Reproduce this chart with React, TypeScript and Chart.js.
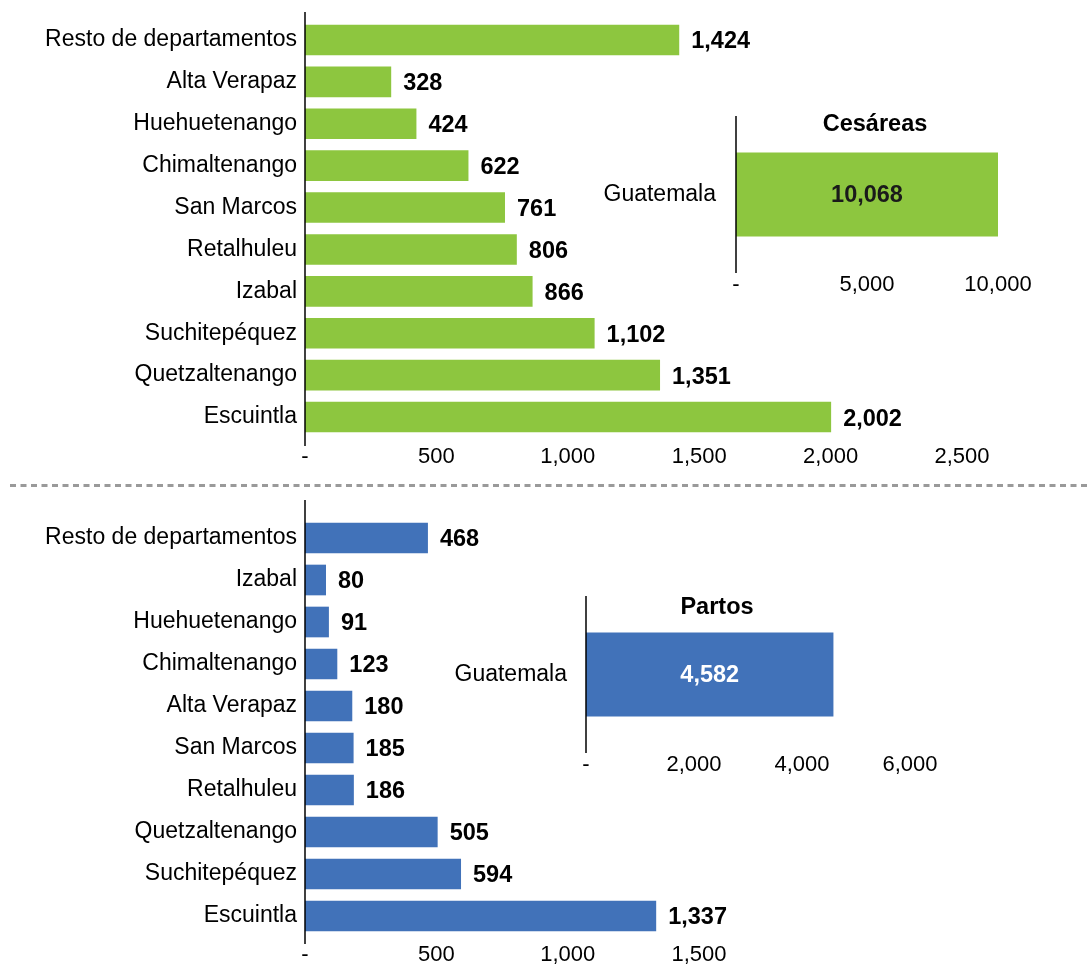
import React, { useEffect, useRef } from 'react';
import { Chart, registerables } from 'chart.js';

Chart.register(...registerables);

const FONT = "'Liberation Sans', Arial, Helvetica, sans-serif";
const GREEN = '#8DC63F';
const BLUE = '#4172B9';

// ---- Data ----
const cesareasDeptos = [
  'Resto de departamentos',
  'Alta Verapaz',
  'Huehuetenango',
  'Chimaltenango',
  'San Marcos',
  'Retalhuleu',
  'Izabal',
  'Suchitepéquez',
  'Quetzaltenango',
  'Escuintla',
];
const cesareasValues = [1424, 328, 424, 622, 761, 806, 866, 1102, 1351, 2002];
const cesareasTicks = [0, 500, 1000, 1500, 2000, 2500];

const cesareasTotalLabel = ['Guatemala'];
const cesareasTotal = [10068];
const cesareasTotalTicks = [0, 5000, 10000];
const cesareasTitle = 'Cesáreas';

const partosDeptos = [
  'Resto de departamentos',
  'Izabal',
  'Huehuetenango',
  'Chimaltenango',
  'Alta Verapaz',
  'San Marcos',
  'Retalhuleu',
  'Quetzaltenango',
  'Suchitepéquez',
  'Escuintla',
];
const partosValues = [468, 80, 91, 123, 180, 185, 186, 505, 594, 1337];
const partosTicks = [0, 500, 1000, 1500];

const partosTotalLabel = ['Guatemala'];
const partosTotal = [4582];
const partosTotalTicks = [0, 2000, 4000, 6000];
const partosTitle = 'Partos';

// ---- Helpers ----
const fmt = (v: number) => (v === 0 ? '-' : Number(v).toLocaleString('en-US'));
const BOLD = `bold 23.5px ${FONT}`;

const decorPlugin = {
  id: 'decor',
  afterDatasetsDraw(chart: any, _args: any, opts: any) {
    const ctx = chart.ctx as CanvasRenderingContext2D;
    const a = chart.chartArea;
    ctx.save();
    // vertical axis line
    ctx.strokeStyle = '#000';
    ctx.lineWidth = 1.5;
    ctx.beginPath();
    ctx.moveTo(a.left, a.top - (opts.lineUp || 0));
    ctx.lineTo(a.left, a.bottom + (opts.lineDown || 0));
    ctx.stroke();

    // dashed separator
    if (opts.dashedY !== undefined && opts.dashedY !== null) {
      ctx.strokeStyle = '#9a9a9a';
      ctx.lineWidth = 3;
      ctx.setLineDash([6, 4.5]);
      ctx.beginPath();
      ctx.moveTo(10, opts.dashedY);
      ctx.lineTo(chart.width, opts.dashedY);
      ctx.stroke();
      ctx.setLineDash([]);
    }

    // value labels
    const meta = chart.getDatasetMeta(0);
    const data = chart.data.datasets[0].data;
    ctx.font = BOLD;
    ctx.textBaseline = 'middle';
    meta.data.forEach((el: any, i: number) => {
      const txt = Number(data[i]).toLocaleString('en-US');
      if (opts.inside) {
        ctx.textAlign = 'center';
        ctx.fillStyle = opts.valueColor || '#000';
        const x = (Math.min(el.x, a.right) + el.base) / 2;
        ctx.fillText(txt, x, el.y + 1);
      } else {
        ctx.textAlign = 'left';
        ctx.fillStyle = '#000';
        ctx.fillText(txt, el.x + 12, el.y + 2);
      }
    });

    // title
    if (opts.title) {
      ctx.textAlign = 'center';
      ctx.fillStyle = '#000';
      ctx.font = BOLD;
      ctx.fillText(opts.title, opts.titleX, opts.titleY);
    }
    ctx.restore();
  },
};

type Spec = {
  left: number;
  top: number;
  width: number;
  height: number;
  labels: string[];
  values: number[];
  ticks: number[];
  color: string;
  yWidth: number;
  xHeight: number;
  padTop: number;
  padRight: number;
  barPct: number;
  tickPad: number;
  yPad: number;
  decor: any;
};

function BarCanvas({ spec }: { spec: Spec }) {
  const ref = useRef<HTMLCanvasElement | null>(null);
  useEffect(() => {
    if (!ref.current) return;
    const s = spec;
    const chart = new Chart(ref.current, {
      type: 'bar',
      data: {
        labels: s.labels,
        datasets: [
          {
            data: s.values,
            backgroundColor: s.color,
            borderWidth: 0,
            barPercentage: s.barPct,
            categoryPercentage: 1,
          },
        ],
      },
      plugins: [decorPlugin],
      options: {
        indexAxis: 'y',
        responsive: false,
        animation: false,
        events: [],
        layout: { padding: { left: 0, top: s.padTop, right: s.padRight, bottom: 0 } },
        plugins: {
          legend: { display: false },
          tooltip: { enabled: false },
          title: { display: false },
          decor: s.decor,
        } as any,
        scales: {
          x: {
            type: 'linear',
            min: s.ticks[0],
            max: s.ticks[s.ticks.length - 1],
            grid: { display: false, drawTicks: false },
            border: { display: false },
            afterBuildTicks: (scale: any) => {
              scale.ticks = s.ticks.map((v) => ({ value: v }));
            },
            afterFit: (scale: any) => {
              scale.height = s.xHeight;
              scale.paddingLeft = 0;
              scale.paddingRight = 0;
            },
            ticks: {
              autoSkip: false,
              maxRotation: 0,
              padding: s.tickPad,
              color: '#000',
              font: { family: FONT, size: 22, lineHeight: 1 },
              callback: (v: any) => fmt(Number(v)),
            },
          },
          y: {
            type: 'category',
            grid: { display: false, drawTicks: false },
            border: { display: false },
            afterFit: (scale: any) => {
              scale.width = s.yWidth;
              scale.paddingTop = 0;
              scale.paddingBottom = 0;
            },
            ticks: {
              autoSkip: false,
              padding: s.yPad,
              color: '#000',
              font: { family: FONT, size: 23, lineHeight: 1 },
            },
          },
        },
      } as any,
    });
    return () => chart.destroy();
  }, [spec]);
  return (
    <canvas
      ref={ref}
      width={spec.width}
      height={spec.height}
      style={{
        position: 'absolute',
        left: spec.left,
        top: spec.top,
        width: spec.width,
        height: spec.height,
      }}
    />
  );
}

const topMain: Spec = {
  left: 0,
  top: 0,
  width: 1091,
  height: 475,
  labels: cesareasDeptos,
  values: cesareasValues,
  ticks: cesareasTicks,
  color: GREEN,
  yWidth: 305,
  xHeight: 37,
  padTop: 19,
  padRight: 129,
  barPct: 0.73,
  tickPad: 8,
  yPad: 8,
  decor: { lineUp: 7, lineDown: 8 },
};

const topInset: Spec = {
  left: 560,
  top: 90,
  width: 531,
  height: 220,
  labels: cesareasTotalLabel,
  values: cesareasTotal,
  ticks: cesareasTotalTicks,
  color: GREEN,
  yWidth: 176,
  xHeight: 37,
  padTop: 26,
  padRight: 93,
  barPct: 0.535,
  tickPad: 1,
  yPad: 20,
  decor: { inside: true, valueColor: '#1a1a1a', title: cesareasTitle, titleX: 315, titleY: 35 },
};

const bottomMain: Spec = {
  left: 0,
  top: 478,
  width: 1091,
  height: 486,
  labels: partosDeptos,
  values: partosValues,
  ticks: partosTicks,
  color: BLUE,
  yWidth: 305,
  xHeight: 27,
  padTop: 39,
  padRight: 392,
  barPct: 0.73,
  tickPad: 7,
  yPad: 8,
  decor: { lineUp: 17, lineDown: 7, dashedY: 7.5 },
};

const bottomInset: Spec = {
  left: 420,
  top: 570,
  width: 560,
  height: 220,
  labels: partosTotalLabel,
  values: partosTotal,
  ticks: partosTotalTicks,
  color: BLUE,
  yWidth: 166,
  xHeight: 37,
  padTop: 26,
  padRight: 70,
  barPct: 0.535,
  tickPad: 1,
  yPad: 19,
  decor: { inside: true, valueColor: '#ffffff', title: partosTitle, titleX: 297, titleY: 38 },
};

export default function App() {
  return (
    <div
      style={{
        position: 'absolute',
        left: 0,
        top: 0,
        width: 1091,
        height: 964,
        background: '#fff',
        overflow: 'hidden',
      }}
    >
      <BarCanvas spec={topMain} />
      <BarCanvas spec={bottomMain} />
      <BarCanvas spec={topInset} />
      <BarCanvas spec={bottomInset} />
    </div>
  );
}
